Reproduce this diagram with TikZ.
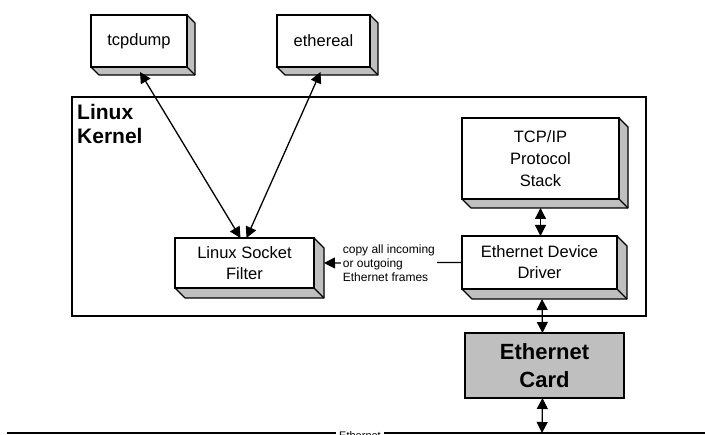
\documentclass[tikz,border=0pt]{standalone}
\usepackage{fontspec}
\setmainfont{Liberation Sans}
\usetikzlibrary{arrows.meta,calc}
\tikzset{
  fbox/.style={draw=black, line width=1.4pt, fill=white, inner sep=0pt, outer sep=0pt, align=center,
    font=\fontsize{16.5}{21}\selectfont},
  side/.style={draw=black, line width=1.2pt, fill=black!25, line join=round},
  conn/.style={draw=black, line width=1.3pt, {Triangle[length=11pt,width=11pt]}-{Triangle[length=11pt,width=11pt]}},
  oneway/.style={draw=black, line width=1.3pt, -{Triangle[length=11pt,width=11pt]}},
  kernelbox/.style={draw=black, line width=1.3pt, inner sep=0pt, outer sep=0pt},
}
\newcommand{\extrude}[2]{%
  \draw[side] (#1.north east) -- ++(#2,#2) -- ($(#1.south east)+(#2,#2)$) -- ($(#1.south west)+(#2,#2)$) -- (#1.south west) -- (#1.south east) -- cycle;
  \draw[line width=1.2pt] (#1.south east) -- ++(#2,#2);
  \draw[line width=1.4pt] (#1.north west) rectangle (#1.south east);
}
\begin{document}
\begin{tikzpicture}[x=1pt,y=-1pt]
\useasboundingbox (0,0) rectangle (705,435);
\fill[white] (0,0) rectangle (705,435);
% kernel region
\node[kernelbox, minimum width=574pt, minimum height=219pt] (kernel) at (359,206.5) {};
\node[anchor=north west, align=left, inner sep=0pt, font=\fontsize{21}{24}\selectfont\bfseries] (klabel) at (77,104) {Linux\\Kernel};
% boxes
\node[fbox, minimum width=96pt, minimum height=52pt] (tcpd) at (139,41) {tcpdump};
\extrude{tcpd}{8}
\node[fbox, minimum width=93pt, minimum height=52pt] (ether) at (323.5,41) {ethereal};
\extrude{ether}{8}
\node[fbox, minimum width=157pt, minimum height=81pt, font=\fontsize{16.5}{22}\selectfont] (tcpip) at (540.5,158.5) {TCP/IP\\Protocol\\Stack};
\extrude{tcpip}{9}
\node[fbox, minimum width=155pt, minimum height=53pt] (edd) at (539.5,262.5) {Ethernet Device\\Driver};
\extrude{edd}{10}
\node[fbox, minimum width=139pt, minimum height=50pt] (lsf) at (244.5,263) {Linux Socket\\Filter};
\extrude{lsf}{10}
\node[fbox, fill=black!25, minimum width=159pt, minimum height=65pt, font=\fontsize{22}{28}\selectfont\bfseries] (card) at (544.5,365.5) {Ethernet\\Card};
% ethernet wire
\coordinate (wl) at (7,433);
\coordinate (wr) at (705,433);
\coordinate (wc) at (542,433);
\draw[line width=1.4pt] (wl) -- (wr);
\node[fill=white, inner sep=3pt, font=\fontsize{11}{13}\selectfont] (wire) at (360,435.5) {Ethernet};
% connectors
\draw[conn] ($(tcpd.south)+(1,5)$) -- ($(lsf.north)+(-4,0)$);
\draw[conn] ($(ether.south)+(-3,5)$) -- ($(lsf.north)+(2,0)$);
\draw[conn] ($(tcpip.south)+(0,9)$) -- (tcpip.south |- edd.north);
\draw[conn] ($(edd.south)+(2.5,10)$) -- ($(card.north)+(-2,0)$);
\draw[conn] ($(card.south)+(-2,0)$) -- (wc);
\draw[oneway] (edd.west) -- node[pos=0.53, fill=white, inner sep=2pt, align=left, font=\fontsize{12}{14}\selectfont] (copy) {copy all incoming\\ or outgoing\\Ethernet frames} ($(lsf.east)+(10,0)$);
\end{tikzpicture}
\end{document}
